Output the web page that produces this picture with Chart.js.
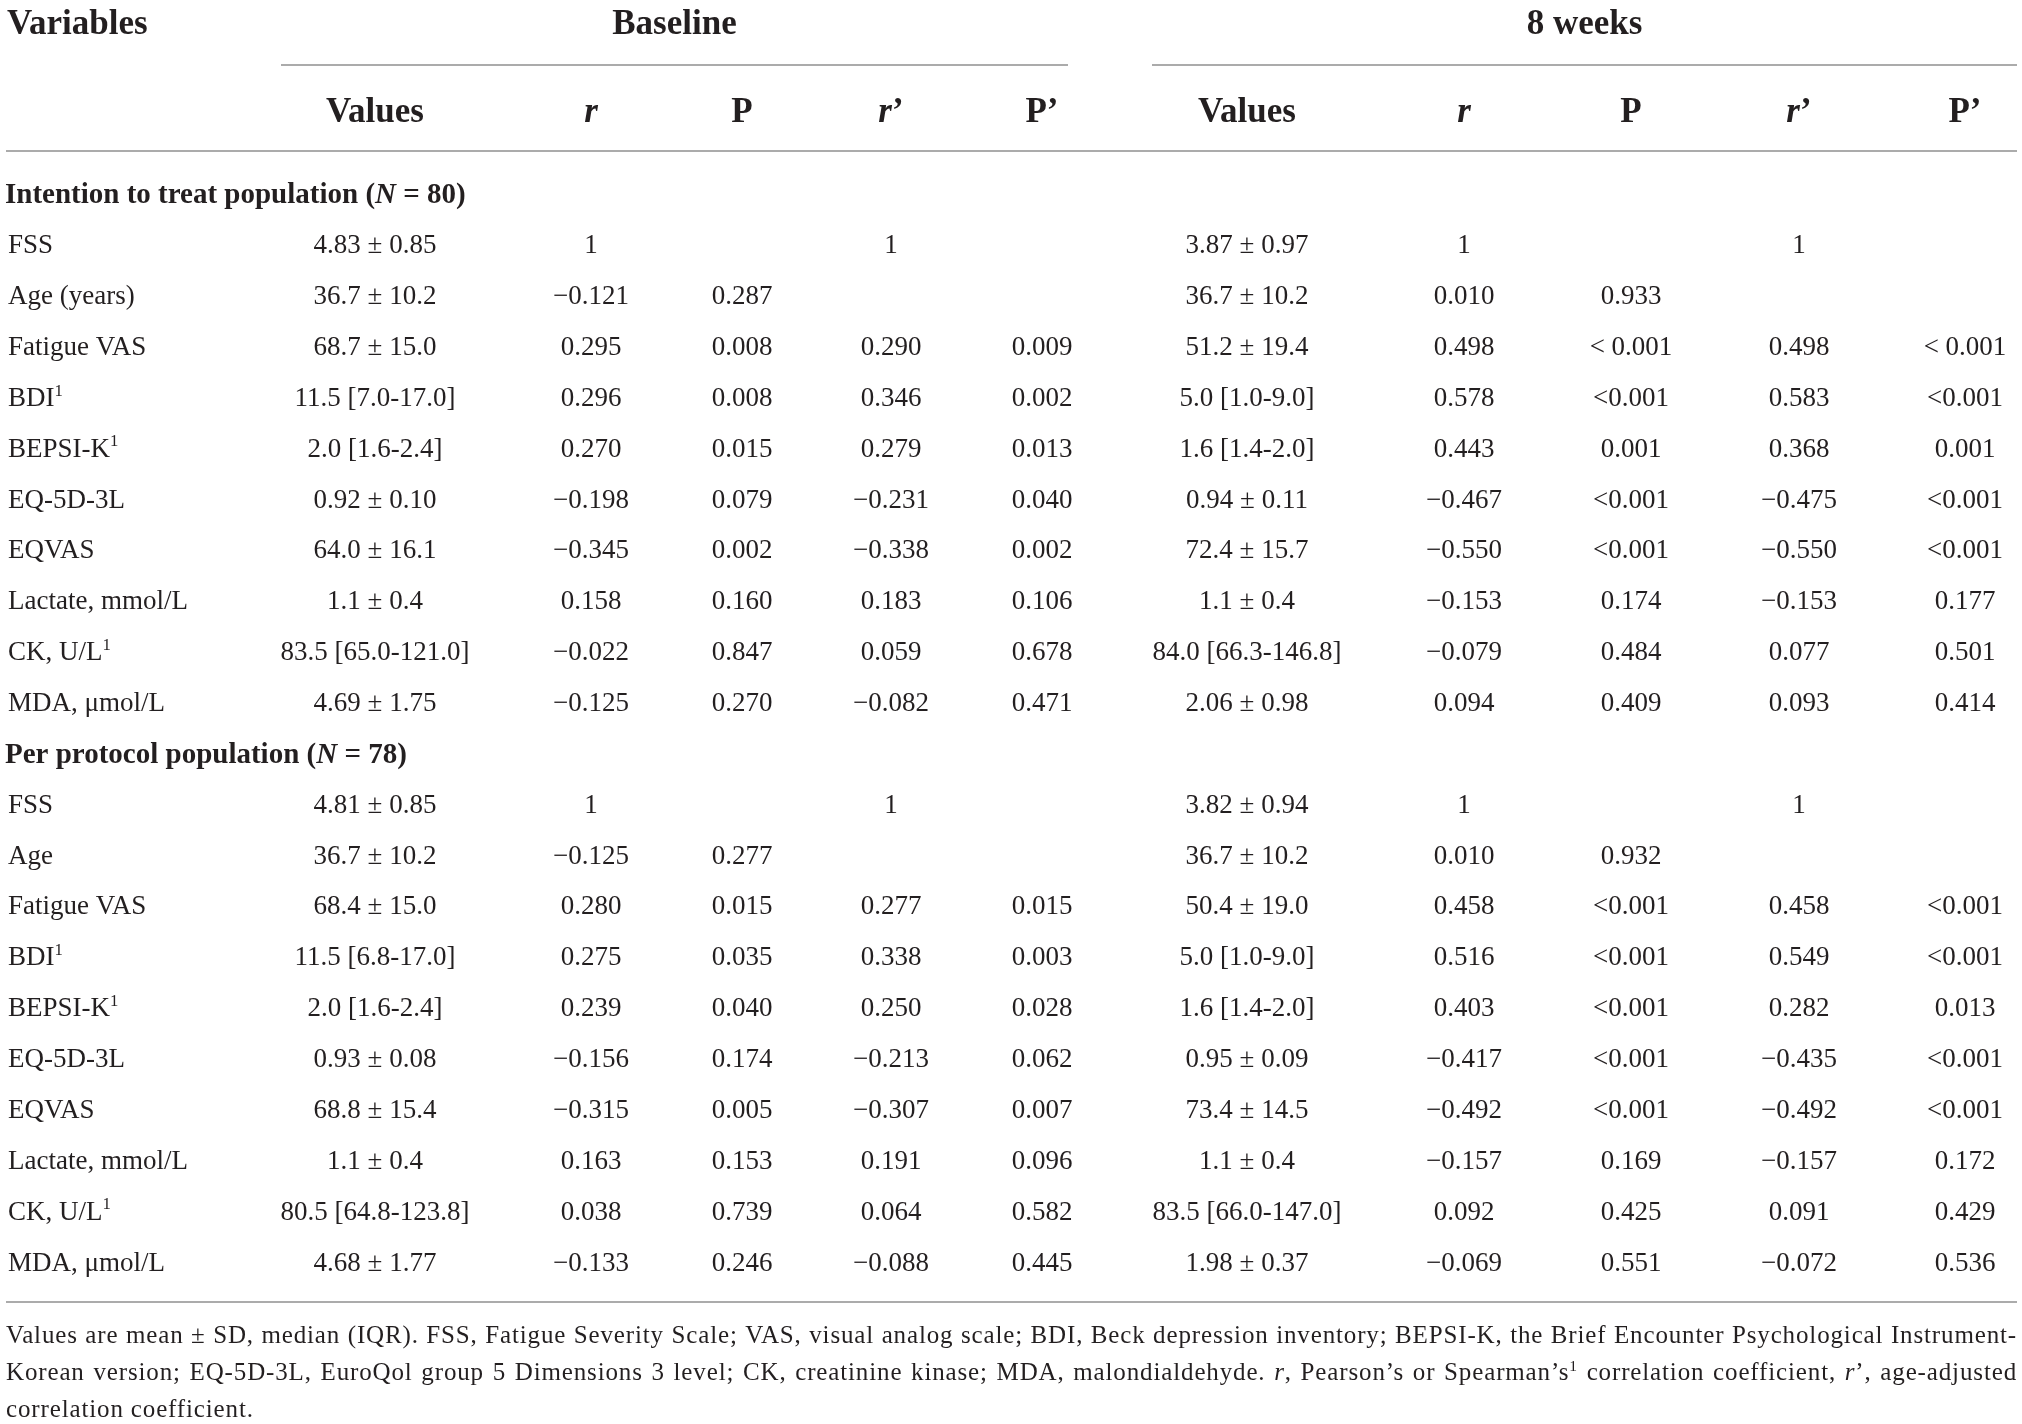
<!DOCTYPE html>
<html><head><meta charset="utf-8">
<script src="https://cdn.jsdelivr.net/npm/chart.js@4.4.0/dist/chart.umd.min.js"></script>
<style>html,body{margin:0;padding:0;background:#fff}#wrap{width:2022px;height:1424px;position:relative}</style>
</head><body><div id="wrap"><canvas id="c"></canvas></div>
<script>
// ================= DATA =================
const groupHeaders = ['Baseline', '8 weeks'];
const columnHeaders = ['Values', '_r_', 'P', '_r_’', 'P’'];
const firstHeader = 'Variables';
const sections = ['Intention to treat population (_N_ = 80)', 'Per protocol population (_N_ = 78)'];

const variablesITT = ['FSS', 'Age (years)', 'Fatigue VAS', 'BDI^{1}', 'BEPSI-K^{1}', 'EQ-5D-3L', 'EQVAS', 'Lactate, mmol/L', 'CK, U/L^{1}', 'MDA, μmol/L'];
const variablesPP  = ['FSS', 'Age', 'Fatigue VAS', 'BDI^{1}', 'BEPSI-K^{1}', 'EQ-5D-3L', 'EQVAS', 'Lactate, mmol/L', 'CK, U/L^{1}', 'MDA, μmol/L'];

// Intention to treat — baseline
const ittBaseValues = ['4.83 ± 0.85', '36.7 ± 10.2', '68.7 ± 15.0', '11.5 [7.0-17.0]', '2.0 [1.6-2.4]', '0.92 ± 0.10', '64.0 ± 16.1', '1.1 ± 0.4', '83.5 [65.0-121.0]', '4.69 ± 1.75'];
const ittBaseR     = [1, -0.121, 0.295, 0.296, 0.270, -0.198, -0.345, 0.158, -0.022, -0.125];
const ittBaseP     = ['', '0.287', '0.008', '0.008', '0.015', '0.079', '0.002', '0.160', '0.847', '0.270'];
const ittBaseRadj  = [1, null, 0.290, 0.346, 0.279, -0.231, -0.338, 0.183, 0.059, -0.082];
const ittBasePadj  = ['', '', '0.009', '0.002', '0.013', '0.040', '0.002', '0.106', '0.678', '0.471'];
// Intention to treat — 8 weeks
const itt8Values = ['3.87 ± 0.97', '36.7 ± 10.2', '51.2 ± 19.4', '5.0 [1.0-9.0]', '1.6 [1.4-2.0]', '0.94 ± 0.11', '72.4 ± 15.7', '1.1 ± 0.4', '84.0 [66.3-146.8]', '2.06 ± 0.98'];
const itt8R      = [1, 0.010, 0.498, 0.578, 0.443, -0.467, -0.550, -0.153, -0.079, 0.094];
const itt8P      = ['', '0.933', '< 0.001', '<0.001', '0.001', '<0.001', '<0.001', '0.174', '0.484', '0.409'];
const itt8Radj   = [1, null, 0.498, 0.583, 0.368, -0.475, -0.550, -0.153, 0.077, 0.093];
const itt8Padj   = ['', '', '< 0.001', '<0.001', '0.001', '<0.001', '<0.001', '0.177', '0.501', '0.414'];
// Per protocol — baseline
const ppBaseValues = ['4.81 ± 0.85', '36.7 ± 10.2', '68.4 ± 15.0', '11.5 [6.8-17.0]', '2.0 [1.6-2.4]', '0.93 ± 0.08', '68.8 ± 15.4', '1.1 ± 0.4', '80.5 [64.8-123.8]', '4.68 ± 1.77'];
const ppBaseR      = [1, -0.125, 0.280, 0.275, 0.239, -0.156, -0.315, 0.163, 0.038, -0.133];
const ppBaseP      = ['', '0.277', '0.015', '0.035', '0.040', '0.174', '0.005', '0.153', '0.739', '0.246'];
const ppBaseRadj   = [1, null, 0.277, 0.338, 0.250, -0.213, -0.307, 0.191, 0.064, -0.088];
const ppBasePadj   = ['', '', '0.015', '0.003', '0.028', '0.062', '0.007', '0.096', '0.582', '0.445'];
// Per protocol — 8 weeks
const pp8Values = ['3.82 ± 0.94', '36.7 ± 10.2', '50.4 ± 19.0', '5.0 [1.0-9.0]', '1.6 [1.4-2.0]', '0.95 ± 0.09', '73.4 ± 14.5', '1.1 ± 0.4', '83.5 [66.0-147.0]', '1.98 ± 0.37'];
const pp8R      = [1, 0.010, 0.458, 0.516, 0.403, -0.417, -0.492, -0.157, 0.092, -0.069];
const pp8P      = ['', '0.932', '<0.001', '<0.001', '<0.001', '<0.001', '<0.001', '0.169', '0.425', '0.551'];
const pp8Radj   = [1, null, 0.458, 0.549, 0.282, -0.435, -0.492, -0.157, 0.091, -0.072];
const pp8Padj   = ['', '', '<0.001', '<0.001', '0.013', '<0.001', '<0.001', '0.172', '0.429', '0.536'];

const footnoteLines = [
  'Values are mean ± SD, median (IQR). FSS, Fatigue Severity Scale; VAS, visual analog scale; BDI, Beck depression inventory; BEPSI-K, the Brief Encounter Psychological Instrument-',
  'Korean version; EQ-5D-3L, EuroQol group 5 Dimensions 3 level; CK, creatinine kinase; MDA, malondialdehyde. _r_, Pearson’s or Spearman’s^{1} correlation coefficient, _r_’, age-adjusted',
  'correlation coefficient.'
];

// ================= LAYOUT / STYLE =================
const W = 2022, H = 1424;
const LAYOUT = {
  rowTop: 193.4, rowPitch: 50.87,
  labelX: 8, sectionX: 5,
  colX: [375, 591, 742, 891, 1042, 1247, 1464, 1631, 1799, 1965],
  groupSpan: [[281, 1068], [1152, 2017]],
  fullRule: [6, 2017],
  groupHeaderRow: -3.36, colHeaderRow: -1.64,
  groupRuleRow: -2.53, headRuleRow: -0.835, bottomRuleRow: 21.80,
  footRows: [22.60, 23.33, 24.05]
};
const FONT = '"Liberation Serif", "Times New Roman", serif';
const INK = '#231f20', RULE = '#ababab';
const SIZE = { head: 35, body: 27, section: 29, foot: 25 };

// ================= HELPERS =================
function fmtR(v) {
  if (v === null || v === undefined) return '';
  if (Number.isInteger(v)) return String(v);
  return v.toFixed(3).replace('-', '−');
}
function parseRich(str) {
  const out = []; const re = /_([^_]+)_|\^\{([^}]+)\}/g; let last = 0, m;
  while ((m = re.exec(str))) {
    if (m.index > last) out.push({ t: str.slice(last, m.index), it: false, sup: false });
    if (m[1] !== undefined) out.push({ t: m[1], it: true, sup: false });
    else out.push({ t: m[2], it: false, sup: true });
    last = re.lastIndex;
  }
  if (last < str.length) out.push({ t: str.slice(last), it: false, sup: false });
  return out;
}
function segFont(s, size, bold) {
  const sz = s.sup ? size * 0.62 : size;
  return (s.it ? 'italic ' : '') + (bold ? 'bold ' : '') + sz.toFixed(2) + 'px ' + FONT;
}
function richWidth(ctx, segs, size, bold) {
  let w = 0; for (const s of segs) { ctx.font = segFont(s, size, bold); w += ctx.measureText(s.t).width; } return w;
}
function drawRich(ctx, str, x, cy, size, bold, align) {
  const segs = parseRich(str); if (!segs.length) return;
  const w = richWidth(ctx, segs, size, bold);
  let sx = align === 'center' ? x - w / 2 : (align === 'right' ? x - w : x);
  const base = cy + size * 0.33;
  ctx.textAlign = 'left'; ctx.textBaseline = 'alphabetic'; ctx.fillStyle = INK;
  for (const s of segs) {
    ctx.font = segFont(s, size, bold);
    ctx.fillText(s.t, sx, s.sup ? base - size * 0.38 : base);
    sx += ctx.measureText(s.t).width;
  }
}
function drawJustified(ctx, str, x0, x1, baseline, size, justify) {
  const words = str.split(' ').map(w => parseRich(w));
  ctx.font = size + 'px ' + FONT;
  const space = ctx.measureText(' ').width;
  const widths = words.map(ws => richWidth(ctx, ws, size, false));
  const total = widths.reduce((a, b) => a + b, 0);
  const gap = justify ? (x1 - x0 - total) / (words.length - 1) : space;
  let sx = x0;
  ctx.textAlign = 'left'; ctx.textBaseline = 'alphabetic'; ctx.fillStyle = INK;
  words.forEach((ws, i) => {
    let px = sx;
    for (const s of ws) {
      ctx.font = segFont(s, size, false);
      ctx.fillText(s.t, px, s.sup ? baseline - size * 0.38 : baseline);
      px += ctx.measureText(s.t).width;
    }
    sx += widths[i] + gap;
  });
}

// ================= BUILD DATASETS =================
const groups = [
  { section: sections[0], vars: variablesITT,
    cols: [ittBaseValues, ittBaseR.map(fmtR), ittBaseP, ittBaseRadj.map(fmtR), ittBasePadj,
           itt8Values, itt8R.map(fmtR), itt8P, itt8Radj.map(fmtR), itt8Padj] },
  { section: sections[1], vars: variablesPP,
    cols: [ppBaseValues, ppBaseR.map(fmtR), ppBaseP, ppBaseRadj.map(fmtR), ppBasePadj,
           pp8Values, pp8R.map(fmtR), pp8P, pp8Radj.map(fmtR), pp8Padj] }
];
const sectionRows = []; let k = 0;
const bodyRows = [];
groups.forEach((g, gi) => {
  sectionRows.push({ row: k, text: g.section }); k++;
  g.vars.forEach((v, ri) => { bodyRows.push({ row: k, gi, ri }); k++; });
});

const datasets = [];
datasets.push({ label: 'sections', kind: 'section',
  data: sectionRows.map(s => ({ x: LAYOUT.sectionX, y: s.row })), texts: sectionRows.map(s => s.text) });
datasets.push({ label: 'variables', kind: 'label',
  data: bodyRows.map(b => ({ x: LAYOUT.labelX, y: b.row })), texts: bodyRows.map(b => groups[b.gi].vars[b.ri]) });
for (let c = 0; c < 10; c++) {
  datasets.push({ label: 'col' + c, kind: 'cell',
    data: bodyRows.map(b => ({ x: LAYOUT.colX[c], y: b.row })),
    texts: bodyRows.map(b => groups[b.gi].cols[c][b.ri]) });
}
datasets.forEach(d => { d.pointRadius = 0; d.pointHoverRadius = 0; d.showLine = false; });

// ================= PLUGIN =================
const tablePlugin = {
  id: 'table',
  beforeDraw(chart) {
    const { ctx } = chart; ctx.save(); ctx.fillStyle = '#fff'; ctx.fillRect(0, 0, chart.width, chart.height); ctx.restore();
  },
  beforeDatasetsDraw(chart) {
    const { ctx, scales: { x, y } } = chart;
    ctx.save(); ctx.strokeStyle = RULE; ctx.lineWidth = 2;
    const hline = (a, b, r) => { const py = Math.round(y.getPixelForValue(r)); ctx.beginPath(); ctx.moveTo(x.getPixelForValue(a), py); ctx.lineTo(x.getPixelForValue(b), py); ctx.stroke(); };
    LAYOUT.groupSpan.forEach(s => hline(s[0], s[1], LAYOUT.groupRuleRow));
    hline(LAYOUT.fullRule[0], LAYOUT.fullRule[1], LAYOUT.headRuleRow);
    hline(LAYOUT.fullRule[0], LAYOUT.fullRule[1], LAYOUT.bottomRuleRow);
    ctx.restore();
  },
  afterDatasetsDraw(chart) {
    const { ctx, scales: { x, y } } = chart;
    ctx.save();
    drawRich(ctx, firstHeader, x.getPixelForValue(LAYOUT.sectionX + 2), y.getPixelForValue(LAYOUT.groupHeaderRow), SIZE.head, true, 'left');
    groupHeaders.forEach((g, i) => {
      const s = LAYOUT.groupSpan[i];
      drawRich(ctx, g, x.getPixelForValue((s[0] + s[1]) / 2), y.getPixelForValue(LAYOUT.groupHeaderRow), SIZE.head, true, 'center');
    });
    LAYOUT.colX.forEach((cx, i) => {
      drawRich(ctx, columnHeaders[i % 5], x.getPixelForValue(cx), y.getPixelForValue(LAYOUT.colHeaderRow), SIZE.head, true, 'center');
    });
    chart.data.datasets.forEach((ds, di) => {
      const meta = chart.getDatasetMeta(di);
      meta.data.forEach((el, i) => {
        const t = ds.texts[i]; if (!t) return;
        if (ds.kind === 'section') drawRich(ctx, t, el.x, el.y, SIZE.section, true, 'left');
        else if (ds.kind === 'label') drawRich(ctx, t, el.x, el.y, SIZE.body, false, 'left');
        else drawRich(ctx, t, el.x, el.y, SIZE.body, false, 'center');
      });
    });
    // footnote: slight letter-spacing (wider face in the original), then justify
    const x0 = x.getPixelForValue(LAYOUT.fullRule[0]), x1 = x.getPixelForValue(LAYOUT.fullRule[1]);
    const span = x1 - x0;
    let fs = SIZE.foot;
    const natural = footnoteLines.slice(0, 2).map(l => richWidth(ctx, parseRich(l), fs, false));
    const maxNat = Math.max(...natural);
    if ('letterSpacing' in ctx) {
      const chars = footnoteLines[natural.indexOf(maxNat)].replace(/_|\^\{|\}/g, '').length;
      const ls = Math.max(0, (span * 0.995 - maxNat) / chars);
      ctx.letterSpacing = ls.toFixed(2) + 'px';
    } else {
      fs = fs * (span * 0.995) / maxNat;
    }
    footnoteLines.forEach((ln, i) => {
      drawJustified(ctx, ln, x0, x1, y.getPixelForValue(LAYOUT.footRows[i]), fs, i < footnoteLines.length - 1);
    });
    ctx.restore();
  }
};

// ================= CHART =================
new Chart(document.getElementById('c'), {
  type: 'scatter',
  data: { datasets },
  options: {
    responsive: true, maintainAspectRatio: false, animation: false, events: [],
    layout: { padding: 0 },
    plugins: { legend: { display: false }, tooltip: { enabled: false } },
    scales: {
      x: { type: 'linear', display: false, min: 0, max: W },
      y: { type: 'linear', display: false, reverse: true,
           min: -LAYOUT.rowTop / LAYOUT.rowPitch, max: (H - LAYOUT.rowTop) / LAYOUT.rowPitch }
    }
  },
  plugins: [tablePlugin]
});
</script>
</body></html>
